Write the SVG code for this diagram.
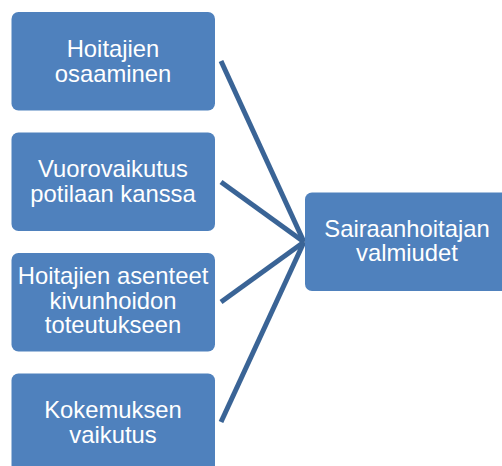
<svg xmlns="http://www.w3.org/2000/svg" width="502" height="466" viewBox="0 0 502 466">
<style>
.box{fill:#4F81BD;}
.t{font-family:"Liberation Sans",Arial,sans-serif;font-size:23.8px;fill:#FFFFFF;text-anchor:middle;}
.c{stroke:#3A6496;stroke-width:5;fill:none;}
</style>
<g id="connectors">
<line class="c" x1="221" y1="61" x2="304" y2="242"/>
<line class="c" x1="221" y1="182" x2="304" y2="242"/>
<line class="c" x1="221" y1="302" x2="304" y2="242"/>
<line class="c" x1="221" y1="422" x2="304" y2="242"/>
</g>
<g id="n1">
<rect class="box" x="11.5" y="12" width="203.5" height="98.5" rx="7"/>
<text class="t" x="113" y="57">Hoitajien</text>
<text class="t" x="113" y="81.5">osaaminen</text>
</g>
<g id="n2">
<rect class="box" x="11.5" y="132.5" width="203.5" height="98.5" rx="7"/>
<text class="t" x="113" y="177">Vuorovaikutus</text>
<text class="t" x="113" y="201.5">potilaan kanssa</text>
</g>
<g id="n3">
<rect class="box" x="11.5" y="253" width="203.5" height="98.5" rx="7"/>
<text class="t" x="113" y="284">Hoitajien asenteet</text>
<text class="t" x="113" y="308.5">kivunhoidon</text>
<text class="t" x="113" y="333">toteutukseen</text>
</g>
<g id="n4">
<rect class="box" x="11.5" y="373.5" width="203.5" height="98.5" rx="7"/>
<text class="t" x="113" y="418">Kokemuksen</text>
<text class="t" x="113" y="442.5">vaikutus</text>
</g>
<g id="n5">
<rect class="box" x="305" y="192.5" width="203.5" height="98.5" rx="7"/>
<text class="t" x="407" y="236.5">Sairaanhoitajan</text>
<text class="t" x="407" y="261">valmiudet</text>
</g>
</svg>
